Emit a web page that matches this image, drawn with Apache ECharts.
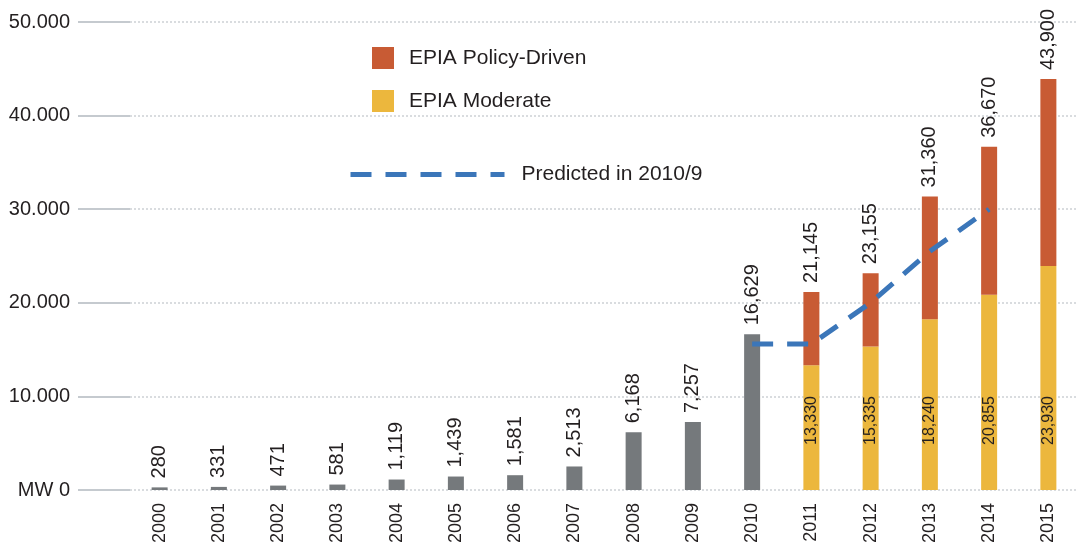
<!DOCTYPE html>
<html>
<head>
<meta charset="utf-8">
<title>PV installations 2000-2015</title>
<script src="https://cdn.jsdelivr.net/npm/echarts@6/dist/echarts.min.js"></script>
<style>
  html, body { margin: 0; padding: 0; background: #fff; }
  #chart { width: 1078px; height: 549px; }
</style>
</head>
<body>
<div id="chart"></div>
<script>
// Years on the category axis
const years = ['2000','2001','2002','2003','2004','2005','2006','2007','2008','2009','2010','2011','2012','2013','2014','2015'];
// Installed capacity 2000-2010 (MW)
const installed = [280, 331, 471, 581, 1119, 1439, 1581, 2513, 6168, 7257, 16629];
// Forecast 2011-2015: moderate scenario and policy-driven totals (MW)
const moderate = [13330, 15335, 18240, 20855, 23930];
const policyDriven = [21145, 23155, 31360, 36670, 43900];
// Forecast made in 2010/9, for 2010-2014
const predicted = [15600, 15600, 20000, 25500, 30000];
// Y-axis tick labels
const yTickLabels = ['MW 0', '10.000', '20.000', '30.000', '40.000', '50.000'];

const nHist = installed.length;
const pad = (arr, before, total) => {
  const out = new Array(total).fill(null);
  arr.forEach((v, i) => { out[before + i] = v; });
  return out;
};
const fmt = v => String(v).replace(/\B(?=(\d{3})+(?!\d))/g, ',');

const grayData = pad(installed, 0, years.length);
const moderateData = pad(moderate, nHist, years.length);
const policyExtra = pad(policyDriven.map((t, i) => t - moderate[i]), nHist, years.length);
const policyTotals = pad(policyDriven, nHist, years.length);
const predictedData = pad(predicted, nHist - 1, years.length);

const textColor = '#231f20';
const font = 'Liberation Sans, Arial, sans-serif';
const lineBlue = '#3b76b9';

const topLabel = {
  show: true,
  position: 'top',
  distance: 9,
  rotate: 90,
  align: 'left',
  verticalAlign: 'middle',
  fontSize: 20,
  fontFamily: font,
  color: textColor
};

const chart = echarts.init(document.getElementById('chart'), null, { renderer: 'canvas' });
chart.setOption({
  animation: false,
  backgroundColor: '#ffffff',
  grid: { left: 130, right: -9, top: 22, bottom: 59, containLabel: false },
  legend: [
    {
      left: 372,
      top: 47,
      padding: 0,
      orient: 'vertical',
      itemWidth: 22,
      itemHeight: 22,
      itemGap: 21,
      icon: 'rect',
      data: ['EPIA Policy-Driven', 'EPIA Moderate'],
      textStyle: { fontSize: 21, fontFamily: font, color: textColor, padding: [0, 0, 0, 10] }
    },
    {
      left: 348,
      top: 164,
      padding: 0,
      itemWidth: 154,
      itemHeight: 14,
      data: ['Predicted in 2010/9'],
      itemStyle: { opacity: 0 },
      lineStyle: { width: 5, type: [21, 14], color: lineBlue },
      textStyle: { fontSize: 21, fontFamily: font, color: textColor, padding: [0, 0, 0, 12] }
    }
  ],
  xAxis: {
    type: 'category',
    data: years,
    axisLine: { show: false },
    axisTick: { show: false },
    axisLabel: {
      rotate: 90,
      margin: 13,
      fontSize: 18,
      fontFamily: font,
      color: textColor
    }
  },
  yAxis: {
    type: 'value',
    min: 0,
    max: 50000,
    interval: 10000,
    axisLine: { show: false },
    axisTick: { show: true, length: 52, lineStyle: { color: '#b3b9c0', width: 1.5 } },
    axisLabel: {
      margin: 60,
      fontSize: 20,
      fontFamily: font,
      color: textColor,
      formatter: v => yTickLabels[Math.round(v / 10000)]
    },
    splitLine: { show: true, lineStyle: { color: '#cdd1d5', type: [2, 2], width: 1.5 } }
  },
  series: [
    {
      name: 'Installed',
      type: 'bar',
      stack: 'pv',
      barWidth: 16,
      data: grayData,
      itemStyle: { color: '#75797c' },
      label: Object.assign({}, topLabel, { formatter: p => fmt(p.value) })
    },
    {
      name: 'EPIA Moderate',
      type: 'bar',
      stack: 'pv',
      barWidth: 16,
      data: moderateData,
      itemStyle: { color: '#ecb73d' },
      label: {
        show: true,
        position: 'insideBottom',
        distance: 45,
        rotate: 90,
        align: 'left',
        verticalAlign: 'middle',
        fontSize: 16,
        fontFamily: font,
        color: textColor,
        formatter: p => fmt(p.value)
      }
    },
    {
      name: 'EPIA Policy-Driven',
      type: 'bar',
      stack: 'pv',
      barWidth: 16,
      data: policyExtra,
      itemStyle: { color: '#c85b34' },
      label: Object.assign({}, topLabel, { formatter: p => fmt(policyTotals[p.dataIndex]) })
    },
    {
      name: 'Predicted in 2010/9',
      type: 'line',
      data: predictedData,
      symbol: 'none',
      z: 5,
      lineStyle: { color: lineBlue, width: 5, type: [21, 14] },
      itemStyle: { color: lineBlue }
    }
  ]
});
</script>
</body>
</html>
